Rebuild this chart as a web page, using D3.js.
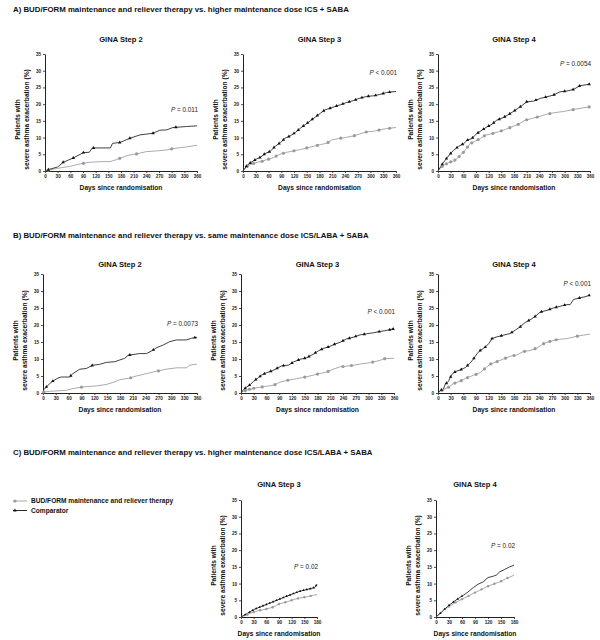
<!DOCTYPE html>
<html><head><meta charset="utf-8">
<script src="https://cdn.jsdelivr.net/npm/d3@7"></script>
<style>body{margin:0;background:#fff}</style>
</head><body><svg id="c" width="600" height="640"></svg>
<script>
// ---------- DATA ----------
const rowTitles = [
  "A) BUD/FORM maintenance and reliever therapy vs. higher maintenance dose ICS + SABA",
  "B) BUD/FORM maintenance and reliever therapy vs. same maintenance dose ICS/LABA + SABA",
  "C) BUD/FORM maintenance and reliever therapy vs. higher maintenance dose ICS/LABA + SABA"
];
const seriesNames = ["BUD/FORM maintenance and reliever therapy", "Comparator"];
const yTicks = [0,5,10,15,20,25,30,35];
const xTicks360 = [0,30,60,90,120,150,180,210,240,270,300,330,360];
const xTicks180 = [0,30,60,90,120,150,180];

// A) Step 2
const a1CompDays = [0,10,30,43,67,91,105,112,155,160,177,201,225,256,272,288,303,335,360];
const a1CompVals = [0,0.5,1.2,2.6,3.9,5.5,5.6,6.9,6.9,8.3,8.5,9.8,10.8,11.3,12.2,12.3,13.0,13.3,13.5];
const a1BudDays  = [0,10,30,60,75,91,106,130,154,169,177,197,217,240,264,288,303,335,360];
const a1BudVals  = [0,0.3,0.8,1.4,1.9,2.3,2.6,2.8,2.8,3.4,3.8,4.7,5.1,5.8,6.0,6.3,6.7,7.2,7.7];
const a1CompMarks = [8,43,67,91,115,177,201,256,310];
const a1BudMarks  = [8,91,177,217,300];
// A) Step 3
const a2CompDays = [0,9,17,29,41,52,64,76,88,99,111,123,135,146,158,170,182,193,205,217,229,244,260,275,291,307,322,338,360];
const a2CompVals = [0,1.6,2.4,3.4,4.1,5.2,5.9,7.4,8.5,9.8,10.5,11.5,12.8,13.8,15.0,16.1,17.3,18.3,18.8,19.3,19.8,20.5,21.1,21.8,22.3,22.5,22.9,23.5,23.8];
const a2BudDays  = [0,9,21,33,45,56,68,80,92,103,119,135,150,166,182,197,209,225,244,260,275,291,307,322,338,360];
const a2BudVals  = [0,1.4,2.1,2.6,2.9,3.4,3.8,4.6,5.2,5.6,6.0,6.4,6.9,7.4,7.9,8.3,9.3,9.7,10.1,10.5,11.1,11.7,11.9,12.3,12.7,13.0];
const a2CompMarks = [8,17,28,40,50,62,73,85,95,108,120,130,142,152,163,175,190,205,220,235,250,265,280,295,312,330,345];
const a2BudMarks  = [10,25,45,60,78,95,120,150,175,200,230,262,290,320,345];
// A) Step 4
const a3CompDays = [0,6,12,20,28,37,49,61,69,80,92,104,116,128,139,155,171,183,195,210,226,242,258,273,289,305,321,336,360];
const a3CompVals = [0,1.2,2.4,3.7,5.0,6.2,7.4,8.2,9.2,9.7,11.2,12.2,13.2,14.0,15.2,16.0,17.2,18.2,19.2,20.7,20.9,21.7,22.2,22.7,23.7,23.9,24.4,25.5,26.0];
const a3BudDays  = [0,6,13,21,29,37,45,53,61,69,76,88,100,112,128,143,159,175,191,206,222,242,258,273,297,321,340,360];
const a3BudVals  = [0,1.0,1.7,2.2,2.7,3.0,3.7,4.7,5.7,7.0,8.2,8.9,9.7,10.7,11.2,11.7,12.4,13.2,14.0,15.2,15.7,16.4,17.0,17.4,17.8,18.4,18.8,19.2];
const a3CompMarks = [10,20,30,45,58,70,82,95,108,120,132,145,158,170,182,195,210,232,255,275,300,320,335,358];
const a3BudMarks  = [10,20,30,40,50,60,70,80,95,110,130,150,170,190,210,235,265,320,358];

// B) Step 2
const b1CompDays = [0,2,8,16,23,35,43,62,70,86,101,117,132,148,168,179,191,199,226,242,257,265,281,296,312,335,347,360];
const b1CompVals = [0,1.0,1.8,2.8,3.5,4.4,4.7,4.7,5.7,7.0,7.2,8.2,8.4,9.0,9.2,9.7,10.2,11.1,11.6,11.6,12.6,13.3,14.1,15.1,15.6,15.6,16.1,16.4];
const b1BudDays  = [0,2,16,55,70,94,125,148,168,179,203,218,242,265,288,312,335,343,360];
const b1BudVals  = [0,0.3,0.5,0.8,1.3,1.8,2.1,2.5,3.3,3.9,4.4,5.0,5.7,6.4,7.0,7.4,7.4,8.2,8.5];
const b1CompMarks = [8,23,65,115,203,258,355];
const b1BudMarks  = [2,90,205,270];
// B) Step 3
const b2CompDays = [0,6,14,22,30,41,49,61,73,84,96,112,123,139,155,170,182,194,209,221,233,248,264,280,295,311,327,342,360];
const b2CompVals = [0,1.0,1.8,2.5,3.5,4.5,5.3,6.0,6.5,7.2,8.0,8.2,9.1,9.9,10.4,11.4,12.4,13.1,13.7,14.4,14.9,15.9,16.4,17.1,17.4,17.7,18.1,18.4,18.9];
const b2BudDays  = [0,6,18,30,45,61,77,92,108,131,155,178,202,217,233,256,280,303,327,338,360];
const b2BudVals  = [0,0.5,1.0,1.4,1.7,2.0,2.3,3.2,3.7,4.2,4.8,5.5,6.2,7.0,7.7,8.0,8.5,8.9,9.6,10.1,10.2];
const b2CompMarks = [10,20,35,45,55,70,85,100,120,135,150,160,175,190,205,220,240,255,270,290,325,350,358];
const b2BudMarks  = [10,20,30,50,80,110,150,180,205,240,260,310,338];
// B) Step 4
const b3CompDays = [0,6,13,17,25,33,41,53,65,76,84,92,100,112,120,128,139,155,171,183,195,206,218,230,242,258,273,289,305,313,321,336,348,360];
const b3CompVals = [0,0.8,1.2,2.5,3.5,5.5,6.3,6.8,7.5,8.8,10.0,11.5,12.5,13.5,14.5,16.0,16.5,17.0,17.5,18.5,19.5,20.7,21.5,22.5,23.8,24.3,25.0,25.5,26.0,26.0,27.5,28.0,28.3,28.8];
const b3BudDays  = [0,6,13,25,37,53,69,84,100,112,124,139,155,171,187,202,218,234,250,266,281,305,329,344,360];
const b3BudVals  = [0,0.5,1.0,1.7,2.8,3.5,4.5,5.2,6.0,7.3,8.5,9.2,10.0,10.8,11.2,12.2,12.5,13.2,14.5,15.2,15.7,16.0,16.7,17.0,17.3];
const b3CompMarks = [8,20,30,40,55,70,85,100,112,128,150,175,195,215,230,245,265,280,300,335,358];
const b3BudMarks  = [10,25,40,55,70,90,110,125,140,160,180,205,230,250,265,280,330];

// C) Step 3
const c3CompDays = [0,14,30,45,61,77,92,108,124,139,155,171,176,180];
const c3CompVals = [0,1.0,2.2,3.0,3.8,4.6,5.4,6.2,7.0,7.7,8.2,8.7,9.0,9.8];
const c3BudDays  = [0,14,30,45,61,77,92,108,124,139,155,171,180];
const c3BudVals  = [0,0.7,1.5,2.0,2.4,3.0,4.0,4.5,5.2,5.7,6.0,6.5,6.7];
const c3CompMarks = [10,20,28,36,44,52,60,68,76,84,92,100,108,116,124,132,140,148,156,164,172,178];
const c3BudMarks  = [15,30,45,60,75,90,105,120,135,150,165];
// C) Step 4
const c4CompDays = [0,9,17,28,40,51,63,74,86,97,109,120,132,139,147,158,170,180];
const c4CompVals = [0,1.0,2.0,3.3,4.5,5.5,6.5,7.5,8.8,9.8,10.5,11.8,12.2,12.5,13.5,14.2,15.0,15.5];
const c4BudDays  = [0,9,21,32,44,55,67,78,90,101,116,132,147,162,180];
const c4BudVals  = [0,1.0,2.3,3.3,4.3,5.0,5.8,6.5,7.3,8.0,9.0,9.8,10.5,11.5,12.5];
const c4CompMarks = [10,20,30,40,50,60];
const c4BudMarks  = [30,45,60,75,90,105,120,135,150,165];

const panelTitles = ["GINA Step 2","GINA Step 3","GINA Step 4","GINA Step 2","GINA Step 3","GINA Step 4","GINA Step 3","GINA Step 4"];
const pLabels = ["= 0.011","< 0.001","= 0.0054","= 0.0073","< 0.001","< 0.001","= 0.02","= 0.02"];
const pValY   = [17.7, 28.7, 31.4, 19.7, 23.2, 31.5, 14.4, 20.6];

// ---------- DRAWING ----------
const FONT = "'Liberation Sans', Arial, sans-serif";
const COMP = "#2b2b2b", BUD = "#ababab", BUDM = "#9a9a9a";
const svg = d3.select("#c");

// row titles
const rowTitleY = [12, 238, 455];
rowTitles.forEach((t, i) => {
  svg.append("text").attr("x", 13).attr("y", rowTitleY[i])
    .attr("font-family", FONT).attr("font-weight", "bold").attr("font-size", 7.85)
    .attr("fill", "#111").text(t);
});

function panel(idx, L, comp, bud, maxDay, xTicks) {
  const g = svg.append("g");
  const x = d3.scaleLinear().domain([0, maxDay]).range([L.x0, L.x1]);
  const y = d3.scaleLinear().domain([0, 35]).range([L.y1, L.y0]);

  // title
  g.append("text").attr("x", (L.x0 + L.x1) / 2).attr("y", L.titleY)
    .attr("text-anchor", "middle").attr("font-family", FONT).attr("font-weight", "bold")
    .attr("font-size", 7.6).attr("fill", "#111").text(panelTitles[idx]);

  // axes
  const ya = g.append("g").attr("transform", `translate(${L.x0},0)`)
    .call(d3.axisLeft(y).tickValues(yTicks).tickSize(2).tickPadding(2).tickSizeOuter(0));
  const xa = g.append("g").attr("transform", `translate(0,${L.y1})`)
    .call(d3.axisBottom(x).tickValues(xTicks).tickSize(2).tickPadding(1.5).tickSizeOuter(0));
  [ya, xa].forEach(a => {
    a.select(".domain").attr("stroke", "#222").attr("stroke-width", 1);
    a.selectAll(".tick line").attr("stroke", "#222").attr("stroke-width", 0.8);
    a.selectAll("text").attr("font-family", FONT).attr("font-size", 4.6)
      .attr("font-weight", "bold").attr("fill", "#222");
  });

  // axis labels
  const midY = (L.y0 + L.y1) / 2 + 7;
  [["Patients with", -27], ["severe asthma exacerbation (%)", -18]].forEach(([t, off]) => {
    g.append("text").attr("transform", `translate(${L.x0 + off},${midY}) rotate(-90)`)
      .attr("text-anchor", "middle").attr("dy", "0.35em")
      .attr("font-family", FONT).attr("font-weight", "bold").attr("font-size", 6.6)
      .attr("fill", "#111").text(t);
  });
  g.append("text").attr("x", (L.x0 + L.x1) / 2).attr("y", L.y1 + 19)
    .attr("text-anchor", "middle").attr("font-family", FONT).attr("font-weight", "bold")
    .attr("font-size", 6.7).attr("fill", "#111").text("Days since randomisation");

  // P value
  const pt = g.append("text").attr("x", x(maxDay) + 1).attr("y", y(pValY[idx]))
    .attr("text-anchor", "end").attr("font-family", FONT).attr("font-size", 6.4).attr("fill", "#222");
  pt.append("tspan").attr("font-style", "italic").text("P");
  pt.append("tspan").text(" " + pLabels[idx]);

  // lines
  const line = d3.line().x(d => x(d[0])).y(d => y(d[1])).curve(d3.curveLinear);
  const drawSeries = (s, color, width) => {
    g.append("path").datum(d3.zip(s.days, s.vals)).attr("d", line)
      .attr("fill", "none").attr("stroke", color).attr("stroke-width", width);
  };
  drawSeries(bud, BUD, 1);
  drawSeries(comp, COMP, 0.9);

  const ms = L.small ? 0.75 : 1;
  // bud markers (circles)
  const bInterp = d3.scaleLinear().domain(bud.days).range(bud.vals);
  g.selectAll(null).data(bud.marks).join("circle")
    .attr("cx", d => x(d)).attr("cy", d => y(bInterp(d))).attr("r", 1.6 * ms)
    .attr("fill", BUDM);
  // comp markers (triangles)
  const cInterp = d3.scaleLinear().domain(comp.days).range(comp.vals);
  const tri = d3.symbol().type(d3.symbolTriangle).size(5 * ms * ms);
  g.selectAll(null).data(comp.marks).join("path")
    .attr("transform", d => `translate(${x(d)},${y(cInterp(d))})`)
    .attr("d", tri).attr("fill", "#111");
}

const S = (days, vals, marks) => ({days, vals, marks});

// Row A
panel(0, {x0:45, x1:197, y0:54, y1:171, titleY:42}, S(a1CompDays,a1CompVals,a1CompMarks), S(a1BudDays,a1BudVals,a1BudMarks), 360, xTicks360);
panel(1, {x0:243, x1:396, y0:54, y1:171, titleY:42}, S(a2CompDays,a2CompVals,a2CompMarks), S(a2BudDays,a2BudVals,a2BudMarks), 360, xTicks360);
panel(2, {x0:438, x1:590, y0:54, y1:171, titleY:42}, S(a3CompDays,a3CompVals,a3CompMarks), S(a3BudDays,a3BudVals,a3BudMarks), 360, xTicks360);
// Row B
panel(3, {x0:43, x1:197, y0:274, y1:393, titleY:267}, S(b1CompDays,b1CompVals,b1CompMarks), S(b1BudDays,b1BudVals,b1BudMarks), 360, xTicks360);
panel(4, {x0:241, x1:394, y0:274, y1:393, titleY:267}, S(b2CompDays,b2CompVals,b2CompMarks), S(b2BudDays,b2BudVals,b2BudMarks), 360, xTicks360);
panel(5, {x0:438, x1:590, y0:274, y1:393, titleY:267}, S(b3CompDays,b3CompVals,b3CompMarks), S(b3BudDays,b3BudVals,b3BudMarks), 360, xTicks360);
// Row C
panel(6, {x0:241, x1:317, y0:500, y1:617, titleY:487, small:true}, S(c3CompDays,c3CompVals,c3CompMarks), S(c3BudDays,c3BudVals,c3BudMarks), 180, xTicks180);
panel(7, {x0:436, x1:514, y0:500, y1:617, titleY:487, small:true}, S(c4CompDays,c4CompVals,c4CompMarks), S(c4BudDays,c4BudVals,c4BudMarks), 180, xTicks180);

// legend
const lg = svg.append("g");
seriesNames.forEach((name, i) => {
  const yy = 501 + i * 9.5;
  lg.append("line").attr("x1", 13).attr("x2", 27).attr("y1", yy).attr("y2", yy)
    .attr("stroke", i === 0 ? BUD : COMP).attr("stroke-width", 1);
  if (i === 0) {
    lg.append("circle").attr("cx", 15).attr("cy", yy).attr("r", 1.6).attr("fill", BUDM);
  } else {
    lg.append("path").attr("transform", `translate(15,${yy})`)
      .attr("d", d3.symbol().type(d3.symbolTriangle).size(5)).attr("fill", "#111");
  }
  lg.append("text").attr("x", 31).attr("y", yy).attr("dy", "0.35em")
    .attr("font-family", FONT).attr("font-weight", "bold").attr("font-size", 6.6)
    .attr("fill", "#111").text(name);
});
</script>
</body></html>
